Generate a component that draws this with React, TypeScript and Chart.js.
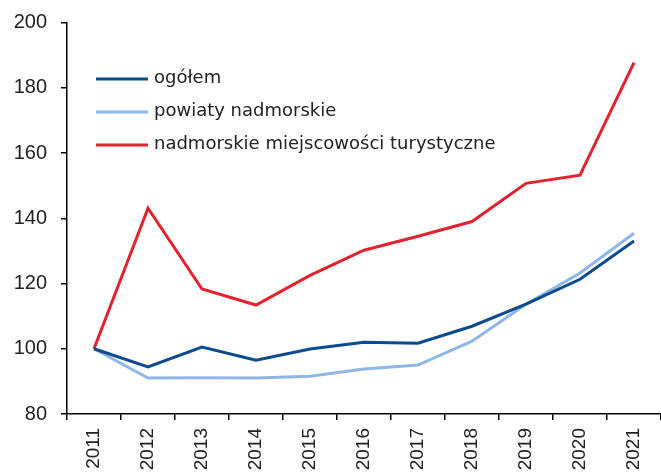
import React, { useEffect, useRef } from "react";
import { Chart, registerables } from "chart.js";

Chart.register(...registerables);

const years = ["2011", "2012", "2013", "2014", "2015", "2016", "2017", "2018", "2019", "2020", "2021"];
const ogolem = [100, 94.4, 100.5, 96.5, 99.9, 102, 101.7, 106.9, 113.7, 121.3, 133];
const powiaty = [100, 91, 91.1, 91, 91.6, 93.8, 95, 102.3, 113.6, 123.2, 135.4];
const miejscowosci = [100, 143.1, 118.3, 113.4, 122.5, 130.2, 134.5, 139, 150.7, 153.2, 187.7];
const seriesNames = ["ogółem", "powiaty nadmorskie", "nadmorskie miejscowości turystyczne"];
const yTicks = { min: 80, max: 200, step: 20 };

const insideLegend = {
  id: "insideLegend",
  afterDraw(chart: any) {
    const { ctx, chartArea } = chart;
    ctx.save();
    ctx.font = '18px "DejaVu Sans"';
    ctx.textBaseline = "middle";
    chart.data.datasets.forEach((ds: any, i: number) => {
      const y = chartArea.top + 56.5 + i * 33;
      const x0 = chartArea.left + 29;
      ctx.strokeStyle = ds.borderColor;
      ctx.lineWidth = 3;
      ctx.beginPath();
      ctx.moveTo(x0, y);
      ctx.lineTo(x0 + 52, y);
      ctx.stroke();
      ctx.fillStyle = "#222";
      ctx.fillText(ds.label, x0 + 58, y - 1);
    });
    ctx.restore();
  },
};

export default function App() {
  const ref = useRef<HTMLCanvasElement | null>(null);
  useEffect(() => {
    if (!ref.current) return;
    const chart = new Chart(ref.current, {
      type: "line",
      data: {
        labels: years,
        datasets: [
          { label: seriesNames[0], data: ogolem, borderColor: "#0A4A8E", borderWidth: 3, pointRadius: 0, tension: 0 },
          { label: seriesNames[1], data: powiaty, borderColor: "#8EB6E6", borderWidth: 3, pointRadius: 0, tension: 0 },
          { label: seriesNames[2], data: miejscowosci, borderColor: "#E3222F", borderWidth: 3, pointRadius: 0, tension: 0 },
        ],
      },
      options: {
        animation: false,
        responsive: false,
        layout: { padding: { top: 22.5, right: 0, left: 0, bottom: 0 } },
        plugins: { legend: { display: false }, tooltip: { enabled: false } },
        scales: {
          x: {
            type: "category",
            offset: true,
            grid: { offset: true, drawOnChartArea: false, drawTicks: true, tickLength: 6, color: "#000", lineWidth: 1.5 },
            border: { display: true, color: "#000", width: 1.5 },
            ticks: {
              minRotation: 90,
              maxRotation: 90,
              autoSkip: false,
              color: "#222",
              font: { family: '"Liberation Sans"', size: 19 },
              padding: 8,
            },
            afterFit: (s: any) => { s.height = 60; s.paddingLeft = 0; s.paddingRight = 0; },
          },
          y: {
            min: yTicks.min,
            max: yTicks.max,
            ticks: {
              stepSize: yTicks.step,
              color: "#222",
              font: { family: '"Liberation Sans"', size: 20 },
              padding: 14,
            },
            grid: { drawOnChartArea: false, drawTicks: true, tickLength: 6, color: "#000", lineWidth: 1.5 },
            border: { display: true, color: "#000", width: 1.5 },
            afterFit: (s: any) => { s.width = 67; s.paddingTop = 0; s.paddingBottom = 0; },
          },
        },
      },
      plugins: [insideLegend],
    });
    return () => chart.destroy();
  }, []);
  return (
    <div style={{ position: "absolute", left: 0, top: 0, width: 661, height: 474, background: "#fff" }}>
      <canvas ref={ref} width={661} height={474} style={{ width: 661, height: 474 }} />
    </div>
  );
}
